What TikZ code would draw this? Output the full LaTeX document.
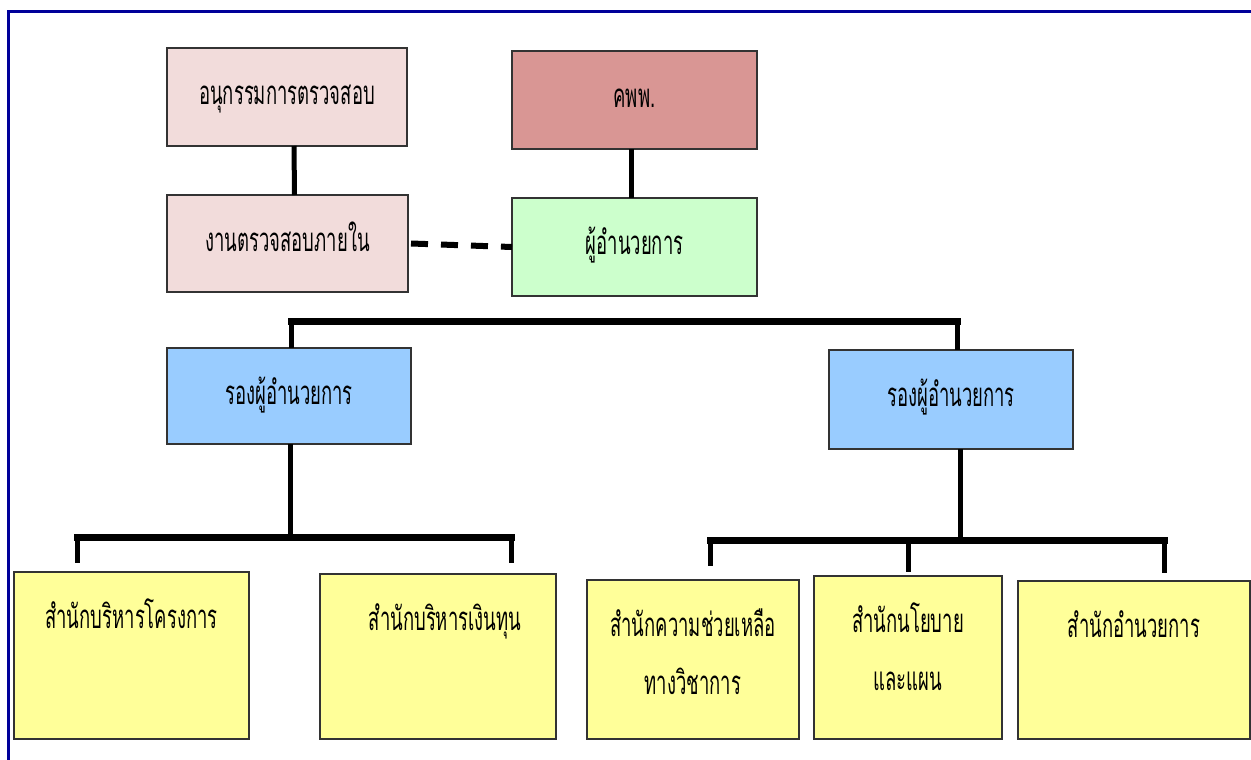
\documentclass[tikz,border=0pt]{standalone}
\usepackage{fontspec}
\newfontfamily\thaifont[Script=Thai,FakeStretch=0.56]{Loma}
\definecolor{pinkbox}{HTML}{F2DCDB}
\definecolor{rosebox}{HTML}{D99694}
\definecolor{greenbox}{HTML}{CCFFCC}
\definecolor{bluebox}{HTML}{99CCFF}
\definecolor{yellowbox}{HTML}{FFFF99}
\definecolor{framecol}{HTML}{000099}
\definecolor{edgecol}{HTML}{333333}
\newcommand\bt[2]{\parbox[t]{#1}{\centering\baselineskip=58pt\relax #2}}
\tikzset{
  bx/.style={draw=edgecol, line width=1.2pt, inner sep=0pt, outer sep=0pt,
    anchor=north west, text height=56pt,
    font=\thaifont\fontsize{33pt}{58pt}\selectfont},
  conn/.style={line width=5pt, draw=black},
  barline/.style={line width=7pt, draw=black, line cap=rect},
  dashline/.style={line width=6pt, draw=black, dash pattern=on 17pt off 13pt}
}
\begin{document}
\begin{tikzpicture}[x=1pt,y=-1pt]
\useasboundingbox (0,0) rectangle (1251,760);
\fill[white] (0,0) rectangle (1251,760);
\draw[framecol, line width=3pt] (8.5,760) -- (8.5,12) -- (1251,12);

% boxes
\node[bx, fill=pinkbox, text depth=42pt] (A) at (167,48) {\bt{240pt}{อนุกรรมการตรวจสอบ}};
\node[bx, fill=pinkbox, text depth=41pt] (B) at (167,195) {\bt{241pt}{งานตรวจสอบภายใน}};
\node[bx, fill=rosebox, text depth=42pt] (C) at (512,51) {\bt{245pt}{คพพ.}};
\node[bx, fill=greenbox, text depth=42pt] (D) at (512,198) {\bt{245pt}{ผู้อำนวยการ}};
\node[bx, fill=bluebox, text depth=40pt] (E) at (167,348) {\bt{244pt}{รองผู้อำนวยการ}};
\node[bx, fill=bluebox, text depth=43pt] (F) at (829,350) {\bt{244pt}{รองผู้อำนวยการ}};
\node[bx, fill=yellowbox, text depth=111pt] (G) at (14,572) {\bt{235pt}{สำนักบริหารโครงการ}};
\node[bx, fill=yellowbox, text depth=109pt] (H) at (320,574) {\bt{236pt}{\hspace*{14pt}สำนักบริหารเงินทุน}};
\node[bx, fill=yellowbox, text depth=103pt] (I) at (587,580) {\bt{212pt}{สำนักความช่วยเหลือ\\ทางวิชาการ}};
\node[bx, fill=yellowbox, text depth=107pt] (J) at (814,576) {\bt{188pt}{สำนักนโยบาย\\และแผน}};
\node[bx, fill=yellowbox, text depth=102pt] (K) at (1018,581) {\bt{232pt}{สำนักอำนวยการ}};

% coordinates
\coordinate (tb) at (0,321);
\coordinate (lb) at (0,537);
\coordinate (rb) at (0,540);
\coordinate (l1) at (77,537);
\coordinate (l2) at (511,537);
\coordinate (l1e) at (77,563);
\coordinate (l2e) at (511,563);
\coordinate (r1) at (710,540);
\coordinate (r2) at (908,540);
\coordinate (r3) at (1164,540);
\coordinate (r1e) at (710,566);
\coordinate (r2e) at (908,572);
\coordinate (r3e) at (1164,573);

% connectors
\draw[conn] ([xshift=7pt]A.south) -- ([xshift=7pt]B.north);
\draw[conn] ([xshift=-3pt]C.south) -- ([xshift=-3pt]D.north);
\draw[dashline] ([xshift=3pt]B.east) -- (D.west);

\draw[barline] ([xshift=2pt]E.north |- tb) -- ([xshift=6pt]F.north |- tb);
\draw[conn] ([xshift=2pt]E.north |- tb) -- ([xshift=2pt]E.north);
\draw[conn] ([xshift=6pt]F.north |- tb) -- ([xshift=6pt]F.north);

\draw[conn] ([xshift=1pt]E.south) -- ([xshift=1pt]E.south |- lb);
\draw[barline] (l1) -- (l2);
\draw[conn] (l1) -- (l1e);
\draw[conn] (l2) -- (l2e);

\draw[conn] ([xshift=9pt]F.south) -- ([xshift=9pt]F.south |- rb);
\draw[barline] (r1) -- (r3);
\draw[conn] (r1) -- (r1e);
\draw[conn] (r2) -- (r2e);
\draw[conn] (r3) -- (r3e);
\end{tikzpicture}
\end{document}
